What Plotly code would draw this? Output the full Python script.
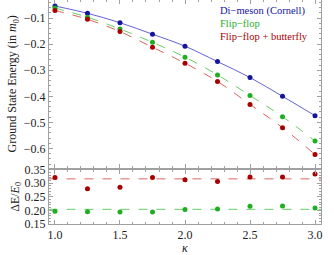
import plotly.graph_objects as go
from plotly.subplots import make_subplots

kappa = [1.0, 1.25, 1.5, 1.75, 2.0, 2.25, 2.5, 2.75, 3.0]
e_dimeson = [-0.054, -0.082, -0.118, -0.162, -0.208, -0.267, -0.328, -0.400, -0.474]
e_flipflop = [-0.062, -0.097, -0.142, -0.193, -0.250, -0.318, -0.397, -0.478, -0.571]
e_ffb = [-0.071, -0.105, -0.152, -0.212, -0.273, -0.343, -0.431, -0.520, -0.623]
de_flipflop = [0.197, 0.195, 0.194, 0.194, 0.203, 0.205, 0.215, 0.216, 0.209]
de_ffb = [0.321, 0.280, 0.285, 0.321, 0.313, 0.306, 0.323, 0.323, 0.334]
mean_flipflop = 0.204
mean_ffb = 0.316
x_span = [0.95, 3.05]
legend_labels = ["Di\u2212meson (Cornell)", "Flip\u2212flop", "Flip\u2212flop + butterfly"]

BLUE_M, BLUE_L = "#14149e", "#6262d6"
GREEN_M, GREEN_L = "#1fae1f", "#66cf66"
RED_M, RED_L = "#a80000", "#dc6464"
FONT = "Times New Roman"
FRAME = "#a0a0a0"

fig = make_subplots(rows=2, cols=1, shared_xaxes=True, vertical_spacing=0.009,
                    row_heights=[0.755, 0.245])

for ys, mc, lc, dash in [(e_dimeson, BLUE_M, BLUE_L, "solid"),
                         (e_flipflop, GREEN_M, GREEN_L, "dash"),
                         (e_ffb, RED_M, RED_L, "dash")]:
    fig.add_trace(go.Scatter(x=kappa, y=ys, mode="lines", line=dict(color=lc, width=1, dash=dash, shape="spline"),
                             showlegend=False, hoverinfo="skip"), row=1, col=1)
    fig.add_trace(go.Scatter(x=kappa, y=ys, mode="markers", marker=dict(color=mc, size=5),
                             showlegend=False), row=1, col=1)

for mean, vals, mc, lc in [(mean_flipflop, de_flipflop, GREEN_M, GREEN_L),
                           (mean_ffb, de_ffb, RED_M, RED_L)]:
    fig.add_trace(go.Scatter(x=x_span, y=[mean, mean], mode="lines",
                             line=dict(color=lc, width=1, dash="dash"), showlegend=False, hoverinfo="skip"),
                  row=2, col=1)
    fig.add_trace(go.Scatter(x=kappa, y=vals, mode="markers", marker=dict(color=mc, size=5),
                             showlegend=False), row=2, col=1)

axis_common = dict(showline=True, linecolor=FRAME, linewidth=1, mirror="ticks", ticks="inside",
                   tickcolor=FRAME, ticklen=4, showgrid=False, zeroline=False, automargin=False,
                   tickfont=dict(family=FONT, size=12, color="#222"))

fig.update_xaxes(range=[0.954, 3.046], dtick=0.5, tickformat=".1f",
                 minor=dict(dtick=0.1, ticks="inside", ticklen=2, tickcolor=FRAME), **axis_common)
fig.update_xaxes(showticklabels=False, row=1, col=1)
fig.update_xaxes(title=dict(text="<i>\u03ba</i>", font=dict(family=FONT, size=12, color="#222"), standoff=2),
                 row=2, col=1)

fig.update_yaxes(range=[-0.673, -0.031], dtick=0.1, tickformat=".1f",
                 minor=dict(dtick=0.02, ticks="inside", ticklen=2, tickcolor=FRAME),
                 title=dict(text="Ground State Energy (in <i>m</i><sub>0</sub>)",
                            font=dict(family=FONT, size=12, color="#222"), standoff=4),
                 row=1, col=1, **axis_common)
fig.update_yaxes(range=[0.15, 0.35], dtick=0.05, tickformat=".2f",
                 minor=dict(dtick=0.01, ticks="inside", ticklen=2, tickcolor=FRAME),
                 title=dict(text="\u0394E/<i>E</i><sub>0</sub>",
                            font=dict(family=FONT, size=12, color="#222"), standoff=2),
                 row=2, col=1, **axis_common)

for i, (txt, col) in enumerate(zip(legend_labels, [BLUE_M, GREEN_M, RED_M])):
    fig.add_annotation(x=0.62, y=0.950 - i * 0.056, xref="paper", yref="paper", xanchor="left",
                       yanchor="middle", text=txt, showarrow=False,
                       font=dict(family=FONT, size=10.5, color=col))

fig.update_layout(width=334, height=255, margin=dict(l=49, r=13, t=0, b=31, autoexpand=False),
                  plot_bgcolor="white", paper_bgcolor="white",
                  font=dict(family=FONT))

fig.write_html("out.html", config={"displayModeBar": False},
               post_script="document.body.style.margin='0';document.body.style.padding='0';")
